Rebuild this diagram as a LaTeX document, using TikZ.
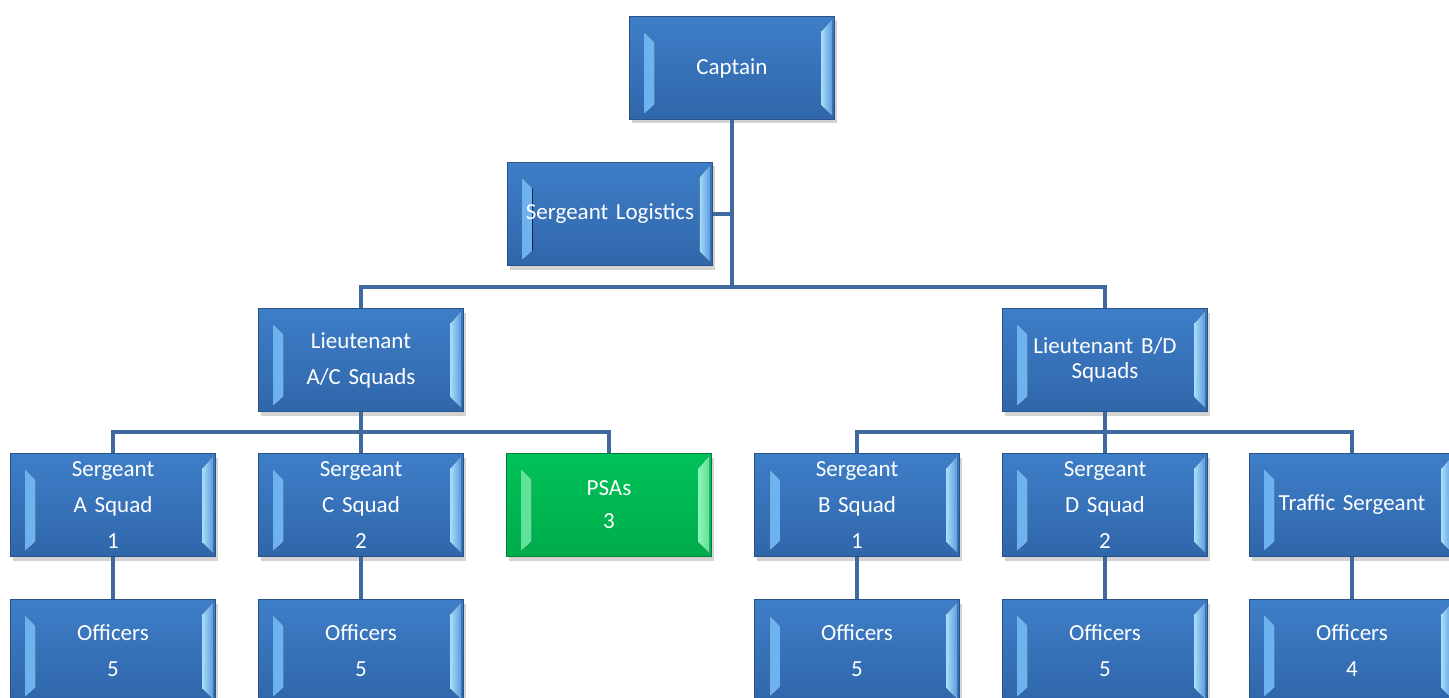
\documentclass[tikz,border=0pt]{standalone}
\usepackage{fontspec}
\setmainfont{Carlito}
\usepackage{tikz}
\usetikzlibrary{shadows}

\definecolor{boxtop}{RGB}{62,126,200}
\definecolor{boxbot}{RGB}{48,102,170}
\definecolor{boxedge}{RGB}{40,82,136}
\definecolor{greentop}{RGB}{0,194,88}
\definecolor{greenbot}{RGB}{0,172,76}
\definecolor{greenedge}{RGB}{0,128,56}
\definecolor{conn}{RGB}{64,105,160}
\definecolor{bevlA}{RGB}{105,175,238}
\definecolor{bevlB}{RGB}{150,212,250}
\definecolor{bevrA}{RGB}{165,220,250}
\definecolor{bevrB}{RGB}{88,152,222}
\definecolor{gbevA}{RGB}{90,225,150}
\definecolor{gbevB}{RGB}{140,245,185}

\newcommand{\orgfont}{\fontsize{23}{36}\selectfont}
% bevel strips on the left and right of a box
\newcommand{\boxbevel}[4]{%
  \fill[left color=#1, right color=#2]
    ([shift={(15pt,-16pt)}]path picture bounding box.north west) --
    ([shift={(25pt,-26pt)}]path picture bounding box.north west) --
    ([shift={(25pt,15pt)}]path picture bounding box.south west) --
    ([shift={(15pt,6pt)}]path picture bounding box.south west) -- cycle;
  \fill[left color=#3, right color=#4]
    ([shift={(-2pt,-2pt)}]path picture bounding box.north east) --
    ([shift={(-13pt,-15pt)}]path picture bounding box.north east) --
    ([shift={(-13pt,14pt)}]path picture bounding box.south east) --
    ([shift={(-2pt,3pt)}]path picture bounding box.south east) -- cycle;}

\tikzset{
  orgbox/.style={rectangle, line width=1pt, minimum width=205pt, minimum height=103pt,
    text width=200pt, inner sep=1pt, align=center, text=white, font=\orgfont,
    drop shadow={opacity=0.35, shadow xshift=2pt, shadow yshift=-4pt}},
  bluebox/.style={orgbox, draw=boxedge, top color=boxtop, bottom color=boxbot,
    path picture={\boxbevel{bevlA}{bevlB}{bevrA}{bevrB}}},
  greenbox/.style={orgbox, draw=greenedge, top color=greentop, bottom color=greenbot,
    path picture={\boxbevel{gbevA}{gbevB}{gbevB}{gbevA}}},
  link/.style={draw=conn, line width=4pt}
}

\begin{document}
\begin{tikzpicture}[x=1pt, y=-1pt]
    \useasboundingbox (0,0) rectangle (1449,698);
    % top levels
    \node[bluebox] (captain) at (732,68) {Captain};
    \node[bluebox] (logistics) at (610,214) {Sergeant Logistics};
    \node[bluebox] (ltAC) at (361,360) {Lieutenant\\A/C Squads};
    \node[bluebox] (ltBD) at (1105,360) {Lieutenant B/D\\[-11pt]Squads};
    % sergeants
    \node[bluebox] (sgtA) at (113,505) {Sergeant\\A Squad\\1};
    \node[bluebox] (sgtC) at (361,505) {Sergeant\\C Squad\\2};
    \node[greenbox] (psas) at (609,505) {PSAs\\[-3pt]3};
    \node[bluebox] (sgtB) at (857,505) {Sergeant\\B Squad\\1};
    \node[bluebox] (sgtD) at (1105,505) {Sergeant\\D Squad\\2};
    \node[bluebox] (traffic) at (1352,505) {Traffic Sergeant};
    % officers
    \node[bluebox] (offA) at (113,651) {Officers\\5};
    \node[bluebox] (offC) at (361,651) {Officers\\5};
    \node[bluebox] (offB) at (857,651) {Officers\\5};
    \node[bluebox] (offD) at (1105,651) {Officers\\5};
    \node[bluebox] (offT) at (1352,651) {Officers\\4};
    % bus points
    \coordinate (busTop) at (732,287);
    \coordinate (busAC) at (361,432);
    \coordinate (busBD) at (1105,432);
    % connectors
    \draw[link] (captain) -- (busTop);
    \draw[link] (logistics.east) -- (logistics.east -| captain.south);
    \draw[link] (ltAC.north) |- (busTop);
    \draw[link] (ltBD.north) |- (busTop);
    \draw[link] (ltAC) -- (busAC);
    \draw[link] (sgtA.north) |- (busAC);
    \draw[link] (sgtC) -- (busAC);
    \draw[link] (psas.north) |- (busAC);
    \draw[link] (ltBD) -- (busBD);
    \draw[link] (sgtB.north) |- (busBD);
    \draw[link] (sgtD) -- (busBD);
    \draw[link] (traffic.north) |- (busBD);
    \draw[link] (sgtA) -- (offA);
    \draw[link] (sgtC) -- (offC);
    \draw[link] (sgtB) -- (offB);
    \draw[link] (sgtD) -- (offD);
    \draw[link] (traffic) -- (offT);
\end{tikzpicture}
\end{document}
